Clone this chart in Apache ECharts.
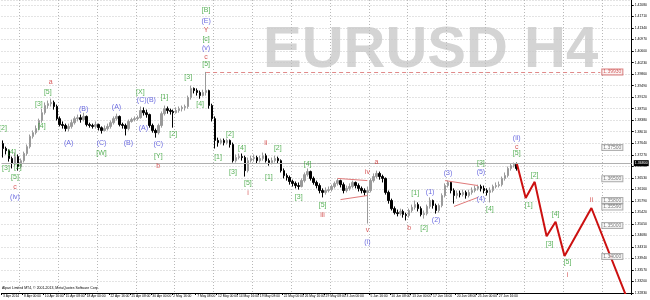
<!DOCTYPE html>
<html><head><meta charset="utf-8">
<script src="https://cdn.jsdelivr.net/npm/echarts@6/dist/echarts.min.js"></script>
<style>html,body{margin:0;padding:0;background:#fff}#c{width:650px;height:300px}</style>
</head><body><div id="c"></div>
<script>
// ---- candle data (EURUSD H4) ----
const opens = [1.3763,1.3747,1.3740,1.3715,1.3699,1.3721,1.3689,1.3708,1.3731,1.3753,
1.3786,1.3798,1.3811,1.3837,1.3862,1.3885,1.3891,1.3895,1.3882,1.3843,
1.3824,1.3821,1.3811,1.3818,1.3830,1.3843,1.3846,1.3840,1.3850,1.3824,
1.3821,1.3818,1.3824,1.3814,1.3805,1.3811,1.3818,1.3830,1.3843,1.3850,
1.3824,1.3821,1.3811,1.3834,1.3840,1.3843,1.3846,1.3869,1.3862,1.3856,
1.3821,1.3805,1.3798,1.3821,1.3859,1.3875,1.3869,1.3866,1.3862,1.3869,
1.3875,1.3879,1.3882,1.3911,1.3940,1.3933,1.3927,1.3917,1.3927,1.3933,
1.3885,1.3843,1.3773,1.3766,1.3773,1.3766,1.3773,1.3760,1.3708,1.3718,
1.3721,1.3718,1.3676,1.3708,1.3715,1.3718,1.3708,1.3715,1.3724,1.3708,
1.3702,1.3708,1.3715,1.3708,1.3676,1.3660,1.3654,1.3641,1.3635,1.3628,
1.3625,1.3644,1.3663,1.3673,1.3651,1.3638,1.3628,1.3612,1.3606,1.3612,
1.3615,1.3625,1.3635,1.3644,1.3631,1.3612,1.3619,1.3625,1.3638,1.3628,
1.3619,1.3612,1.3606,1.3612,1.3644,1.3657,1.3667,1.3657,1.3651,1.3606,
1.3580,1.3554,1.3541,1.3538,1.3545,1.3535,1.3532,1.3548,1.3558,1.3567,
1.3554,1.3535,1.3538,1.3561,1.3580,1.3564,1.3548,1.3564,1.3596,1.3628,
1.3638,1.3612,1.3596,1.3603,1.3599,1.3606,1.3596,1.3606,1.3612,1.3619,
1.3625,1.3619,1.3612,1.3606,1.3612,1.3625,1.3628,1.3631,1.3651,1.3660,
1.3683,1.3692,1.3696];
const closes = [1.3747,1.3740,1.3715,1.3699,1.3721,1.3689,1.3708,1.3731,1.3753,1.3786,
1.3798,1.3811,1.3837,1.3862,1.3885,1.3891,1.3895,1.3882,1.3843,1.3824,
1.3821,1.3811,1.3818,1.3830,1.3843,1.3846,1.3840,1.3850,1.3824,1.3821,
1.3818,1.3824,1.3814,1.3805,1.3811,1.3818,1.3830,1.3843,1.3850,1.3824,
1.3821,1.3811,1.3834,1.3840,1.3843,1.3846,1.3869,1.3862,1.3856,1.3821,
1.3805,1.3798,1.3821,1.3859,1.3875,1.3869,1.3866,1.3862,1.3869,1.3875,
1.3879,1.3882,1.3911,1.3940,1.3933,1.3927,1.3917,1.3927,1.3933,1.3885,
1.3843,1.3773,1.3766,1.3773,1.3766,1.3773,1.3760,1.3708,1.3718,1.3721,
1.3718,1.3676,1.3708,1.3715,1.3718,1.3708,1.3715,1.3724,1.3708,1.3702,
1.3708,1.3715,1.3708,1.3676,1.3660,1.3654,1.3641,1.3635,1.3628,1.3625,
1.3644,1.3663,1.3673,1.3651,1.3638,1.3628,1.3612,1.3606,1.3612,1.3615,
1.3625,1.3635,1.3644,1.3631,1.3612,1.3619,1.3625,1.3638,1.3628,1.3619,
1.3612,1.3606,1.3612,1.3644,1.3657,1.3667,1.3657,1.3651,1.3606,1.3580,
1.3554,1.3541,1.3538,1.3545,1.3535,1.3532,1.3548,1.3558,1.3567,1.3554,
1.3535,1.3538,1.3561,1.3580,1.3564,1.3548,1.3564,1.3596,1.3628,1.3638,
1.3612,1.3596,1.3603,1.3599,1.3606,1.3596,1.3606,1.3612,1.3619,1.3625,
1.3619,1.3612,1.3606,1.3612,1.3625,1.3628,1.3631,1.3651,1.3660,1.3683,
1.3692,1.3696,1.3683];
const lows = [1.3718,1.3728,1.3705,1.3683,1.3692,1.3676,1.3683,1.3702,1.3724,1.3747,
1.3779,1.3792,1.3805,1.3830,1.3856,1.3875,1.3882,1.3872,1.3837,1.3818,
1.3811,1.3802,1.3802,1.3811,1.3824,1.3834,1.3830,1.3834,1.3818,1.3814,
1.3811,1.3811,1.3805,1.3795,1.3802,1.3805,1.3811,1.3824,1.3837,1.3818,
1.3811,1.3789,1.3805,1.3830,1.3834,1.3837,1.3843,1.3853,1.3846,1.3814,
1.3798,1.3782,1.3792,1.3814,1.3853,1.3859,1.3856,1.3814,1.3859,1.3862,
1.3866,1.3869,1.3875,1.3904,1.3924,1.3917,1.3907,1.3914,1.3917,1.3875,
1.3834,1.3747,1.3753,1.3760,1.3757,1.3760,1.3750,1.3702,1.3702,1.3712,
1.3708,1.3657,1.3670,1.3702,1.3705,1.3699,1.3702,1.3708,1.3702,1.3692,
1.3696,1.3702,1.3699,1.3670,1.3651,1.3644,1.3631,1.3625,1.3619,1.3615,
1.3622,1.3638,1.3657,1.3644,1.3631,1.3619,1.3603,1.3590,1.3599,1.3606,
1.3609,1.3619,1.3628,1.3622,1.3603,1.3606,1.3612,1.3619,1.3619,1.3609,
1.3603,1.3596,1.3506,1.3606,1.3638,1.3651,1.3647,1.3638,1.3599,1.3570,
1.3548,1.3535,1.3529,1.3532,1.3525,1.3516,1.3525,1.3541,1.3551,1.3545,
1.3529,1.3522,1.3532,1.3554,1.3554,1.3538,1.3541,1.3558,1.3590,1.3622,
1.3603,1.3570,1.3586,1.3590,1.3593,1.3586,1.3590,1.3599,1.3606,1.3612,
1.3609,1.3603,1.3596,1.3574,1.3606,1.3619,1.3622,1.3625,1.3644,1.3654,
1.3676,1.3686,1.3676];
const highs = [1.3773,1.3753,1.3744,1.3721,1.3734,1.3728,1.3715,1.3737,1.3760,1.3792,
1.3805,1.3821,1.3843,1.3875,1.3895,1.3901,1.3907,1.3901,1.3888,1.3850,
1.3834,1.3827,1.3827,1.3840,1.3850,1.3856,1.3856,1.3862,1.3853,1.3830,
1.3827,1.3834,1.3827,1.3818,1.3821,1.3827,1.3837,1.3850,1.3859,1.3853,
1.3830,1.3827,1.3840,1.3846,1.3850,1.3853,1.3882,1.3879,1.3872,1.3859,
1.3827,1.3811,1.3827,1.3866,1.3885,1.3882,1.3875,1.3872,1.3879,1.3882,
1.3885,1.3888,1.3917,1.3949,1.3943,1.3940,1.3933,1.3936,1.3993,1.3936,
1.3891,1.3850,1.3782,1.3779,1.3779,1.3779,1.3776,1.3766,1.3728,1.3731,
1.3731,1.3724,1.3718,1.3724,1.3728,1.3724,1.3724,1.3734,1.3731,1.3715,
1.3718,1.3724,1.3721,1.3712,1.3683,1.3667,1.3660,1.3647,1.3641,1.3638,
1.3651,1.3670,1.3683,1.3676,1.3657,1.3644,1.3635,1.3619,1.3622,1.3625,
1.3631,1.3641,1.3651,1.3647,1.3638,1.3628,1.3635,1.3644,1.3641,1.3635,
1.3625,1.3619,1.3625,1.3651,1.3667,1.3676,1.3673,1.3663,1.3654,1.3612,
1.3586,1.3561,1.3551,1.3554,1.3551,1.3541,1.3554,1.3567,1.3580,1.3574,
1.3561,1.3548,1.3567,1.3590,1.3583,1.3570,1.3570,1.3603,1.3635,1.3644,
1.3641,1.3619,1.3612,1.3612,1.3615,1.3612,1.3615,1.3622,1.3628,1.3631,
1.3631,1.3628,1.3619,1.3622,1.3631,1.3638,1.3641,1.3657,1.3670,1.3689,
1.3699,1.3702,1.3702];

// ---- x axis: total bar slots (history + future) and tick labels ----
const slotCount = 211;
const xTickIdx = [0,7,14,21,28,36,43,50,57,65,72,79,86,94,101,108,115,123,130,137,144,152,159,166];
const xTickLabels = ['3 Apr 2014','8 Apr 00:00','10 Apr 16:00','15 Apr 08:00','18 Apr 00:00','22 Apr 16:00',
 '25 Apr 08:00','30 Apr 00:00','2 May 16:00','7 May 08:00','12 May 00:00','14 May 16:00','19 May 08:00',
 '22 May 00:00','26 May 16:00','29 May 08:00','3 Jun 00:00','5 Jun 16:00','10 Jun 08:00','13 Jun 00:00',
 '17 Jun 16:00','20 Jun 08:00','25 Jun 00:00','27 Jun 16:00'];

// ---- forecast path ----
const forecastIdx = [172,175,178,182,185,188,197,210];
const forecastPrice = [1.3700,1.3588,1.3640,1.3465,1.3512,1.3402,1.3556,1.3240];

// ---- horizontal levels ----
const levelPrices = [1.3750,1.3650,1.3580,1.3559,1.3500,1.3400];
const highLevel = 1.3993;
const highLevelFrom = 68, highLevelTo = 200;
const bidPrice = 1.3680;

// ---- triangles (two contracting triangles) ----
const triangles = [
  [[112,1.3651],[122,1.3644]], [[113,1.3583],[122,1.3596]],
  [[148,1.3644],[159,1.3628]], [[151,1.3561],[159,1.3590]]
];

// ---- wave labels [text, barIndex, price] ----
const greenLabels = [
['[2]',0,1.3814],['[4]',3,1.3737],['[3]',1,1.3683],['[2]',5,1.3689],['[5]',4,1.3654],
['[4]',13,1.3818],['[3]',12,1.3891],['[5]',15,1.3927],['[W]',33,1.3731],['[X]',46,1.3927],
['[Y]',52,1.3724],['[1]',54,1.3911],['[2]',57,1.3792],['[3]',62,1.3975],['[4]',66,1.3891],
['[5]',68,1.4017],['[c]',68,1.4100],['[B]',68,1.4193],['[1]',72,1.3718],['[2]',76,1.3795],
['[3]',77,1.3670],['[4]',80,1.3747],['[5]',82,1.3635],['[1]',89,1.3654],['[2]',92,1.3747],
['[3]',99,1.3590],['[4]',102,1.3696],['[5]',107,1.3567],['[1]',138,1.3603],['[2]',141,1.3493],
['[3]',160,1.3699],['[4]',163,1.3554],['[5]',172,1.3731],['[1]',176,1.3567],['[2]',178,1.3663],
['[3]',183,1.3439],['[4]',185,1.3538],['[5]',189,1.3381]];
const blueLabels = [
['(iv)',4,1.3590],['(A)',22,1.3766],['(B)',27,1.3875],['(C)',33,1.3766],['(A)',38,1.3879],
['(B)',42,1.3766],['(C)(B)',48,1.3904],['(A)',47,1.3814],['(C)',52,1.3760],['(v)',68,1.4071],
['(E)',68,1.4155],['(i)',122,1.3448],['(1)',143,1.3606],['(2)',145,1.3516],['(3)',149,1.3667],
['(4)',160,1.3586],['(5)',160,1.3670],['(ii)',172,1.3782]];
const redLabels = [
['c',4,1.3622],['a',16,1.3959],['b',52,1.3692],['c',68,1.4042],['Y',68,1.4126],['i',82,1.3603],
['ii',88,1.3766],['iii',107,1.3532],['iv',122,1.3673],['a',125,1.3702],['v',122,1.3484],
['b',136,1.3490],['c',172,1.3753],['i',189,1.3342],['ii',197,1.3583]];

// ---- build ----
const FONT = 'Liberation Sans, Arial, sans-serif';
const names = new Array(slotCount).fill('');
xTickIdx.forEach((k, j) => { names[k] = xTickLabels[j]; });
const tickSet = new Set(xTickIdx);
const candleData = opens.map((o, i) => [o, closes[i], lows[i], highs[i]]);
const fData = new Array(slotCount).fill(null);
forecastIdx.forEach((k, j) => { fData[k] = forecastPrice[j]; });

function waveSeries(list, color) {
  return {
    type: 'scatter', symbolSize: 0, z: 6, silent: true,
    data: list.map(d => ({ name: d[0], value: [d[1], d[2]] })),
    label: { show: true, position: 'inside', formatter: p => p.name, color: color,
      fontSize: 7, fontFamily: FONT }
  };
}

const chart = echarts.init(document.getElementById('c'), null, { renderer: 'canvas' });
chart.setOption({
  animation: false,
  backgroundColor: '#fff',
  grid: { left: 0, right: 16, top: 0, bottom: 7, containLabel: false },
  xAxis: {
    type: 'category', data: names, boundaryGap: true,
    axisLine: { show: true, lineStyle: { color: '#000', width: 1 } },
    axisTick: { show: true, interval: (i) => tickSet.has(i), length: 2, lineStyle: { color: '#000' } },
    axisLabel: { interval: (i) => tickSet.has(i), fontSize: 3.3, color: '#000', align: 'left',
      margin: 2, fontFamily: FONT },
    splitLine: { show: true, interval: (i) => i % 13 === 6,
      lineStyle: { color: '#b8b8b8', type: [1, 2], width: 1 } }
  },
  yAxis: {
    type: 'value', position: 'right', min: 1.3283, max: 1.4224, interval: 0.0037, scale: true,
    axisLine: { show: true, lineStyle: { color: '#000', width: 1 } },
    axisTick: { show: true, length: 2, lineStyle: { color: '#000' } },
    axisLabel: { fontSize: 3.4, color: '#000', margin: 3, fontFamily: FONT, showMaxLabel: false,
      formatter: v => v.toFixed(5) },
    splitLine: { show: true, lineStyle: { color: '#c8c8c8', type: [1, 2], width: 1 } }
  },
  series: [
    {
      type: 'candlestick', data: candleData, barWidth: 2, z: 3,
      itemStyle: { color: '#9a9a9a', color0: '#000', borderColor: '#9a9a9a', borderColor0: '#000', borderWidth: 1 },
      markLine: {
        silent: true, symbol: ['none', 'none'], animation: false,
        data: [
          [{ coord: [highLevelFrom, highLevel], lineStyle: { color: '#e08a8a', type: [4, 3], width: 1 }, label: { show: false } },
           { coord: [highLevelTo, highLevel] }],
          ...triangles.map(t => [
            { coord: t[0], lineStyle: { color: '#e07a7a', type: 'solid', width: 1 }, label: { show: false } },
            { coord: t[1] }]),
          { yAxis: bidPrice, lineStyle: { color: '#b0b0b0', type: 'solid', width: 1 },
            label: { show: true, position: 'end', formatter: '1.36800', backgroundColor: '#000', color: '#fff',
              fontSize: 3.6, fontFamily: FONT, padding: [1, 1], distance: 2 } }
        ]
      }
    },
    {
      type: 'line', data: fData, connectNulls: true, symbol: 'none', z: 4,
      lineStyle: { color: '#cc1010', width: 2 }
    },
    waveSeries(greenLabels, '#2e9e2e'),
    waveSeries(blueLabels, '#4646d8'),
    waveSeries(redLabels, '#cc2e2e'),
    {
      type: 'scatter', symbolSize: 0, z: 7, silent: true,
      data: levelPrices.map(p => [204, p]),
      label: { show: true, position: 'inside', formatter: p => p.value[1].toFixed(5), color: '#555',
        fontSize: 5, fontFamily: FONT, backgroundColor: '#fff', borderColor: '#999', borderWidth: 1, padding: [0, 1] }
    },
    {
      type: 'scatter', symbolSize: 0, z: 7, silent: true,
      data: [[204, highLevel]],
      label: { show: true, position: 'inside', formatter: p => p.value[1].toFixed(5), color: '#c83030',
        fontSize: 5, fontFamily: FONT, backgroundColor: '#fff', borderColor: '#d06060', borderWidth: 1, padding: [0, 1] }
    }
  ],
  graphic: [
    { type: 'text', z: -10, left: 263, top: 22, silent: true,
      style: { text: 'EURUSD H4', font: 'bold 58px Liberation Sans, Arial, sans-serif', fill: '#d4d4d4' } },
    { type: 'text', left: 2, top: 286, silent: true,
      style: { text: 'Alpari Limited MT4, \u00a9 2001-2013, MetaQuotes Software Corp.', font: '3.5px Liberation Sans, Arial, sans-serif', fill: '#000' } }
  ]
});
</script></body></html>
